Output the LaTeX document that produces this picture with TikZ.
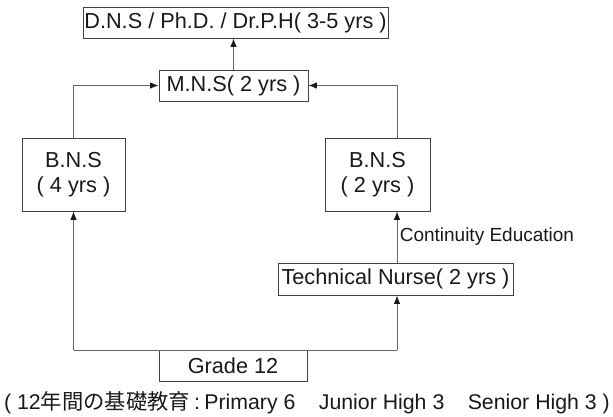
\documentclass[tikz,border=0pt]{standalone}
\usepackage{fontspec}
\setmainfont{Liberation Sans}
\newfontfamily\jpfont{Noto Sans CJK JP}
\usetikzlibrary{arrows.meta}
\begin{document}
\begin{tikzpicture}[x=1pt,y=-1pt,
  font=\fontsize{21.7}{25}\selectfont,
  degbox/.style={draw=black!75,line width=0.8pt,inner sep=0pt,align=center,text=black!90},
  path/.style={draw=black!60,line width=0.9pt},
  arr/.style={path,-{Latex[length=8.5pt,width=6.5pt,color=black!90]}}]
\useasboundingbox (0,0) rectangle (613,416);
\node[degbox,minimum width=305pt,minimum height=31pt] (dns) at (235.5,22.5) {D.N.S / Ph.D. / Dr.P.H( 3-5 yrs )};
\node[degbox,minimum width=149pt,minimum height=31pt] (mns) at (233.5,85.5) {M.N.S( 2 yrs )};
\node[degbox,minimum width=103pt,minimum height=73pt] (bns-four) at (73.5,174.5) {B.N.S\\( 4 yrs )};
\node[degbox,minimum width=105pt,minimum height=73pt] (bns-two) at (377.5,174.5) {B.N.S\\( 2 yrs )};
\node[degbox,minimum width=235pt,minimum height=32pt] (tech) at (395.5,279) {Technical Nurse( 2 yrs )};
\node[degbox,minimum width=148pt,minimum height=31pt] (grade) at (233,365.5) {Grade 12};
\node[text=black!90,font=\fontsize{21.3}{25}\selectfont] (basic) at (307,403) {( 12{\jpfont 年間の基礎教育}\hspace{0.2em}:\hspace{0.2em}Primary 6\hspace{1.1em}Junior High 3\hspace{1.1em}Senior High 3 )};
\coordinate (right-line) at (397,350);
\coordinate (left-line) at (bns-four.south |- right-line);
\draw[arr] (mns.north) -- (mns.north |- dns.south);
\draw[arr] (bns-four.north) |- (mns.west);
\draw[arr] (right-line |- bns-two.north) |- (mns.east);
\draw[arr] (right-line |- tech.north) -- node[pos=0.5,right,xshift=-1pt,text=black!90,font=\fontsize{19}{22}\selectfont] (contin) {Continuity Education} (right-line |- bns-two.south);
\draw[arr] (left-line) -- (bns-four.south);
\draw[path] (left-line) -- (right-line);
\draw[arr] (right-line) -- (right-line |- tech.south);
\end{tikzpicture}
\end{document}
